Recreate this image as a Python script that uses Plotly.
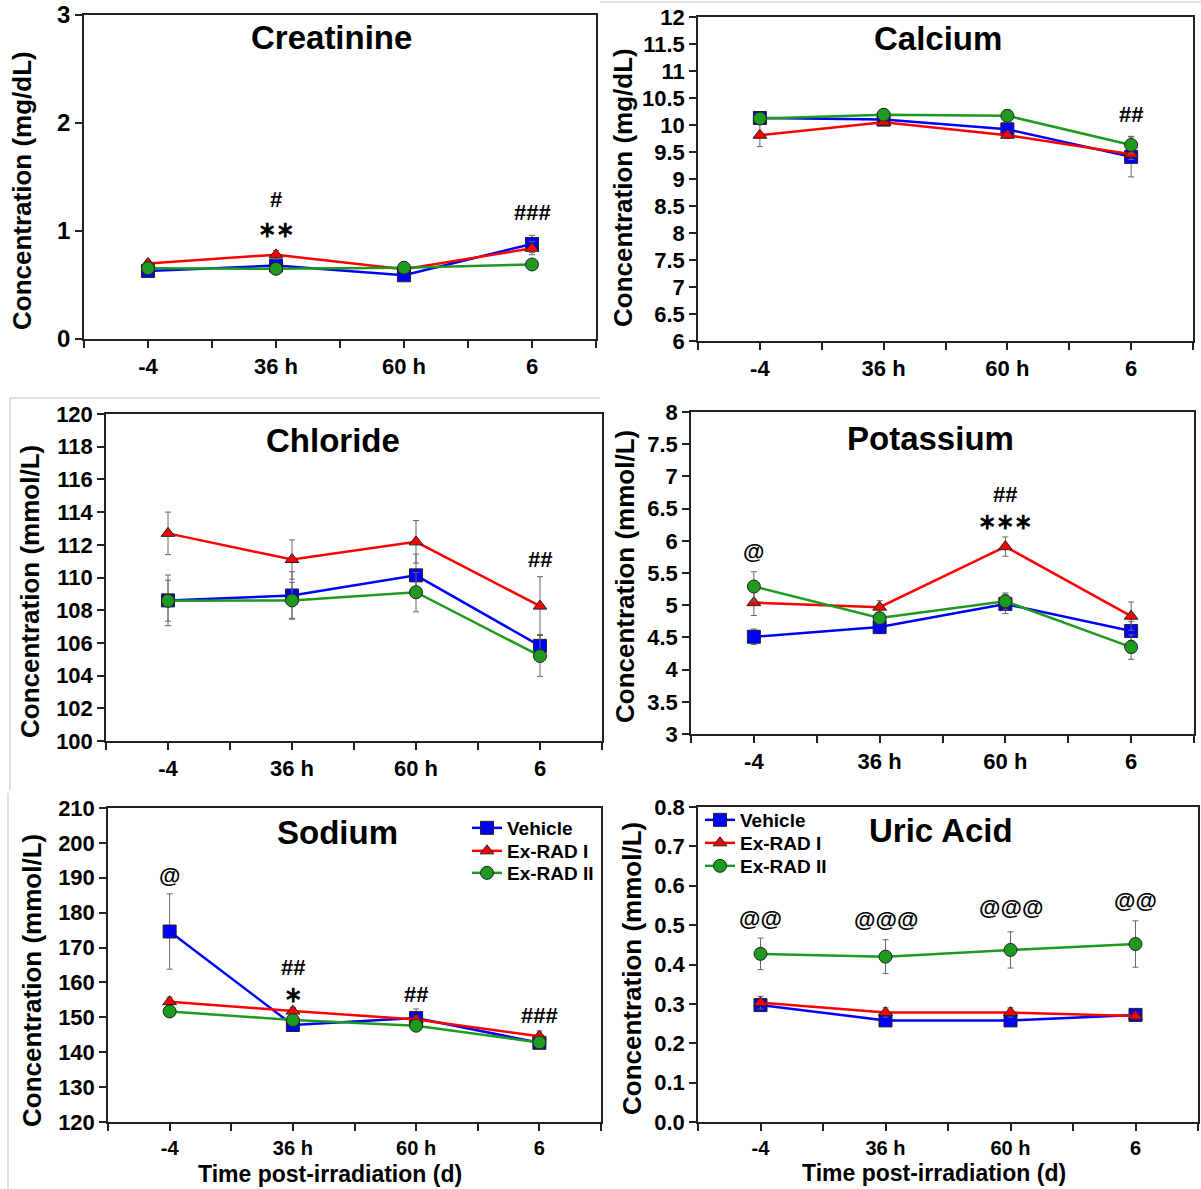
import plotly.graph_objects as go

W, H = 1201, 1189

timepoints = ["-4", "36 h", "60 h", "6"]
group_names = ["Vehicle", "Ex-RAD I", "Ex-RAD II"]

# ---------------- data (means and SEM) ----------------
# Creatinine (mg/dL)
creat_vehicle = [0.63, 0.68, 0.59, 0.88]
creat_vehicle_err = [0.02, 0.02, 0.02, 0.08]
creat_exrad1 = [0.70, 0.78, 0.645, 0.84]
creat_exrad1_err = [0.03, 0.04, 0.02, 0.06]
creat_exrad2 = [0.655, 0.65, 0.66, 0.69]
creat_exrad2_err = [0.02, 0.02, 0.02, 0.02]

# Calcium (mg/dL)
ca_vehicle = [10.13, 10.10, 9.92, 9.41]
ca_vehicle_err = [0.07, 0.05, 0.08, 0.37]
ca_exrad1 = [9.81, 10.05, 9.81, 9.46]
ca_exrad1_err = [0.21, 0.05, 0.06, 0.10]
ca_exrad2 = [10.12, 10.19, 10.17, 9.63]
ca_exrad2_err = [0.05, 0.05, 0.11, 0.16]

# Chloride (mmol/L)
cl_vehicle = [108.60, 108.90, 110.13, 105.82]
cl_vehicle_err = [1.55, 1.45, 1.30, 0.70]
cl_exrad1 = [112.70, 111.10, 112.18, 108.25]
cl_exrad1_err = [1.30, 1.20, 1.30, 1.80]
cl_exrad2 = [108.58, 108.60, 109.10, 105.20]
cl_exrad2_err = [1.25, 1.10, 1.20, 1.25]

# Potassium (mmol/L)
k_vehicle = [4.51, 4.66, 5.02, 4.60]
k_vehicle_err = [0.12, 0.10, 0.15, 0.15]
k_exrad1 = [5.04, 4.97, 5.91, 4.83]
k_exrad1_err = [0.20, 0.10, 0.15, 0.22]
k_exrad2 = [5.29, 4.80, 5.06, 4.35]
k_exrad2_err = [0.23, 0.08, 0.13, 0.19]

# Sodium (mmol/L)
na_vehicle = [174.6, 147.8, 149.8, 142.7]
na_vehicle_err = [10.8, 1.0, 2.6, 1.0]
na_exrad1 = [154.5, 151.8, 149.4, 144.6]
na_exrad1_err = [1.3, 1.0, 1.0, 1.5]
na_exrad2 = [151.7, 149.2, 147.6, 142.8]
na_exrad2_err = [1.0, 1.0, 1.0, 1.0]

# Uric acid (mmol/L)
ua_vehicle = [0.297, 0.258, 0.258, 0.272]
ua_vehicle_err = [0.010, 0.008, 0.008, 0.008]
ua_exrad1 = [0.303, 0.278, 0.278, 0.269]
ua_exrad1_err = [0.016, 0.012, 0.012, 0.008]
ua_exrad2 = [0.427, 0.420, 0.437, 0.452]
ua_exrad2_err = [0.040, 0.043, 0.046, 0.059]

# significance labels: text, timepoint index, y value
creat_sig_text = ["#", "∗∗", "###"]
creat_sig_x = [1, 1, 3]
creat_sig_y = [1.29, 1.01, 1.17]
ca_sig_text = ["##"]
ca_sig_x = [3]
ca_sig_y = [10.19]
cl_sig_text = ["##"]
cl_sig_x = [3]
cl_sig_y = [111.1]
k_sig_text = ["@", "##", "∗∗∗"]
k_sig_x = [0, 2, 2]
k_sig_y = [5.83, 6.72, 6.30]
na_sig_text = ["@", "##", "∗", "##", "###"]
na_sig_x = [0, 1, 1, 2, 3]
na_sig_y = [190.6, 164.4, 156.6, 156.6, 150.4]
ua_sig_text = ["@@", "@@@", "@@@", "@@"]
ua_sig_x = [0, 1, 2, 3]
ua_sig_y = [0.518, 0.515, 0.546, 0.562]

# ---------------- styling ----------------
FONT = "Liberation Sans, Arial, sans-serif"
colors = ["#0000FF", "#FF0000", "#1E9A1E"]
symbols = ["square", "triangle-up", "circle"]
msizes = [13, 12, 13]

panels = [
    dict(title="Creatinine", ylabel="Concentration (mg/dL)",
         series=[(creat_vehicle, creat_vehicle_err), (creat_exrad1, creat_exrad1_err), (creat_exrad2, creat_exrad2_err)],
         sig=(creat_sig_text, creat_sig_x, creat_sig_y),
         yrange=[0, 3], dtick=1, fmt="", ytick_size=24, xtick_size=22,
         box=(84, 596, 15, 339), title_xy=(331, 37), ylab_xy=(22, 191), xlab=None),
    dict(title="Calcium", ylabel="Concentration (mg/dL)",
         series=[(ca_vehicle, ca_vehicle_err), (ca_exrad1, ca_exrad1_err), (ca_exrad2, ca_exrad2_err)],
         sig=(ca_sig_text, ca_sig_x, ca_sig_y),
         yrange=[6, 12], dtick=0.5, fmt="", ytick_size=22, xtick_size=22,
         box=(698, 1193, 17, 341), title_xy=(938, 38), ylab_xy=(623, 188), xlab=None),
    dict(title="Chloride", ylabel="Concentration (mmol/L)",
         series=[(cl_vehicle, cl_vehicle_err), (cl_exrad1, cl_exrad1_err), (cl_exrad2, cl_exrad2_err)],
         sig=(cl_sig_text, cl_sig_x, cl_sig_y),
         yrange=[100, 120], dtick=2, fmt="", ytick_size=22, xtick_size=22,
         box=(106, 602, 414, 741), title_xy=(333, 440), ylab_xy=(30, 592), xlab=None),
    dict(title="Potassium", ylabel="Concentration (mmol/L)",
         series=[(k_vehicle, k_vehicle_err), (k_exrad1, k_exrad1_err), (k_exrad2, k_exrad2_err)],
         sig=(k_sig_text, k_sig_x, k_sig_y),
         yrange=[3, 8], dtick=0.5, fmt="", ytick_size=22, xtick_size=22,
         box=(691, 1194, 412, 734), title_xy=(930, 438), ylab_xy=(625, 577), xlab=None),
    dict(title="Sodium", ylabel="Concentration (mmol/L)",
         series=[(na_vehicle, na_vehicle_err), (na_exrad1, na_exrad1_err), (na_exrad2, na_exrad2_err)],
         sig=(na_sig_text, na_sig_x, na_sig_y),
         yrange=[120, 210], dtick=10, fmt="", ytick_size=22, xtick_size=20,
         box=(108, 601, 808, 1122), title_xy=(337, 832), ylab_xy=(32, 981), xlab=(330, 1174)),
    dict(title="Uric Acid", ylabel="Concentration (mmol/L)",
         series=[(ua_vehicle, ua_vehicle_err), (ua_exrad1, ua_exrad1_err), (ua_exrad2, ua_exrad2_err)],
         sig=(ua_sig_text, ua_sig_x, ua_sig_y),
         yrange=[0, 0.8], dtick=0.1, fmt=".1f", ytick_size=22, xtick_size=20,
         box=(698, 1198, 807, 1122), title_xy=(941, 830), ylab_xy=(632, 969), xlab=(934, 1173)),
]

# one single-entry legend per legend row so the rows can sit close together
legend_of = {(4, 0): "legend", (4, 1): "legend3", (4, 2): "legend4",
             (5, 0): "legend2", (5, 1): "legend5", (5, 2): "legend6"}
legend_pos = {"legend": (467, 828), "legend3": (467, 851), "legend4": (467, 873),
              "legend2": (700, 820), "legend5": (700, 843), "legend6": (700, 866)}

fig = go.Figure()
annotations = []
x_idx = list(range(len(timepoints)))


def px(x):
    return x / W


def py(y):
    return 1 - y / H


for i, p in enumerate(panels):
    n = i + 1
    xa = "x" if n == 1 else f"x{n}"
    ya = "y" if n == 1 else f"y{n}"
    xkey = "xaxis" if n == 1 else f"xaxis{n}"
    ykey = "yaxis" if n == 1 else f"yaxis{n}"
    x0, x1, y0, y1 = p["box"]
    line_style = dict(showline=True, linecolor="#222222", linewidth=1.5, mirror=True,
                      showgrid=False, zeroline=False, ticks="outside", ticklen=7,
                      tickwidth=1.5, tickcolor="#222222", automargin=False)
    fig.update_layout({
        xkey: dict(domain=[px(x0), px(x1)], anchor=ya, range=[-0.5, 3.5],
                   tickmode="array", tickvals=x_idx, ticktext=timepoints,
                   tickfont=dict(family=FONT, size=p["xtick_size"], color="black", weight="bold"),
                   minor=dict(tickmode="linear", tick0=0.5, dtick=1, ticks="outside",
                              ticklen=7, tickwidth=1.5, tickcolor="#222222"),
                   **line_style),
        ykey: dict(domain=[py(y1), py(y0)], anchor=xa, range=p["yrange"],
                   tickmode="linear", tick0=p["yrange"][0], dtick=p["dtick"],
                   tickformat=p["fmt"],
                   tickfont=dict(family=FONT, size=p["ytick_size"], color="black", weight="bold"),
                   **line_style),
    })
    for g, (vals, errs) in enumerate(p["series"]):
        leg = legend_of.get((i, g))
        fig.add_trace(go.Scatter(
            x=x_idx, y=vals, xaxis=xa, yaxis=ya, name=group_names[g],
            mode="lines+markers",
            line=dict(color=colors[g], width=2.5),
            marker=dict(symbol=symbols[g], size=msizes[g], color=colors[g],
                        line=dict(color="#222222", width=1)),
            error_y=dict(type="data", array=errs, visible=True, color="#666666",
                         thickness=1, width=3),
            showlegend=leg is not None,
            legend=leg if leg else "legend",
        ))
    annotations.append(dict(text=p["title"], x=px(p["title_xy"][0]), y=py(p["title_xy"][1]),
                            xref="paper", yref="paper", showarrow=False,
                            xanchor="center", yanchor="middle",
                            font=dict(family=FONT, size=33, color="black", weight="bold")))
    annotations.append(dict(text=p["ylabel"], x=px(p["ylab_xy"][0]), y=py(p["ylab_xy"][1]),
                            xref="paper", yref="paper", showarrow=False, textangle=-90,
                            xanchor="center", yanchor="middle",
                            font=dict(family=FONT, size=26, color="black", weight="bold")))
    if p["xlab"]:
        annotations.append(dict(text="Time post-irradiation (d)", x=px(p["xlab"][0]), y=py(p["xlab"][1]),
                                xref="paper", yref="paper", showarrow=False,
                                xanchor="center", yanchor="middle",
                                font=dict(family=FONT, size=23, color="black", weight="bold")))
    st, sx, sy = p["sig"]
    for t, xx, yy in zip(st, sx, sy):
        annotations.append(dict(text=t, x=xx, y=yy, xref=xa, yref=ya, showarrow=False,
                                xanchor="center", yanchor="middle",
                                font=dict(family=FONT, size=22, color="black", weight="bold")))

sep_lines = [(600, 2, 1201, 2), (10, 398, 600, 398), (10, 398, 10, 790), (8, 793, 8, 1189)]
shapes = [dict(type="line", xref="paper", yref="paper", x0=px(a), y0=py(b), x1=px(c), y1=py(d),
               line=dict(color="#d4d4d4", width=1.5)) for a, b, c, d in sep_lines]

legend_layout = {}
for key, (lx, ly) in legend_pos.items():
    legend_layout[key] = dict(x=px(lx), y=py(ly), xanchor="left", yanchor="middle",
                              bgcolor="rgba(0,0,0,0)", itemwidth=30,
                              font=dict(family=FONT, size=19, color="black", weight="bold"))

fig.update_layout(
    width=W, height=H, margin=dict(l=0, r=0, t=0, b=0, autoexpand=False),
    paper_bgcolor="white", plot_bgcolor="white",
    annotations=annotations, shapes=shapes,
    **legend_layout,
)

fig.write_html("out.html")
